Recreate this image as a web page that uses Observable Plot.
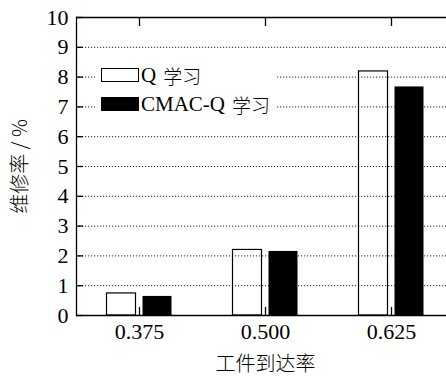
<!DOCTYPE html>
<html>
<head>
<meta charset="utf-8">
<script src="https://cdn.jsdelivr.net/npm/d3@7"></script>
<script src="https://cdn.jsdelivr.net/npm/@observablehq/plot@0.6"></script>
<style>
html, body { margin: 0; padding: 0; background: #fff; overflow: hidden; }
#wrap { position: relative; width: 446px; height: 376px; }
#legend { position: absolute; left: 95px; top: 58px; width: 182px; height: 62px; background: #fff;
  font-family: 'Liberation Serif', 'Noto Sans CJK SC', serif; font-size: 21px; color: #000; }
.row { position: absolute; left: 6px; display: flex; align-items: center; height: 22px; white-space: nowrap; }
.sw { width: 38px; height: 14px; box-sizing: border-box; border: 1px solid #000; margin-right: 2px; }
.cj { font-family: 'Noto Sans CJK SC', sans-serif; font-size: 19px; font-weight: 300; margin-left: 7px; }
svg text { font-family: 'Liberation Serif', 'Times New Roman', serif; }
</style>
</head>
<body>
<div id="wrap"></div>
<script>
const rates = ["0.375", "0.500", "0.625"];
const qLearning = [0.74, 2.20, 8.19];
const cmacQ = [0.64, 2.15, 7.67];
const yTicks = [0, 1, 2, 3, 4, 5, 6, 7, 8, 9, 10];
const gridValues = [1, 2, 3, 4, 5, 6, 7, 8, 9];
const seriesLatin = ["Q", "CMAC-Q"];
const seriesCJK = "学习";
const xLabel = "工件到达率";
const yLabel = "维修率 / %";

const qData = rates.map((r, i) => ({rate: r, value: qLearning[i]}));
const cData = rates.map((r, i) => ({rate: r, value: cmacQ[i]}));

const serif = "'Liberation Serif', 'Times New Roman', serif";
const cjk = "'Noto Sans CJK SC', sans-serif";

const chart = Plot.plot({
  width: 446,
  height: 376,
  marginLeft: 76,
  marginRight: 0,
  marginTop: 17,
  marginBottom: 61,
  style: {fontFamily: serif, fontSize: "22px", background: "white", color: "black"},
  x: {type: "band", domain: rates, range: [76, 454], padding: 0},
  y: {domain: [0, 10]},
  marks: [
    Plot.ruleY(gridValues, {stroke: "#222", strokeDasharray: "1.2,1.8", strokeWidth: 1}),
    Plot.barY(qData, {x: "rate", y: "value", fill: "none", stroke: "black", strokeWidth: 1.2, insetLeft: 30.5, insetRight: 66.5}),
    Plot.barY(cData, {x: "rate", y: "value", fill: "black", insetLeft: 66.5, insetRight: 30.5}),
    Plot.ruleY([0, 10], {stroke: "black", strokeWidth: 1.3}),
    Plot.frame({anchor: "left", stroke: "black", strokeWidth: 1.3}),
    Plot.axisY({ticks: yTicks, tickSize: -7, tickFormat: () => "", label: null, strokeWidth: 1.3}),
    Plot.axisY({ticks: yTicks, tickSize: 0, tickPadding: 8, label: null, fontSize: 22, fill: "black"}),
    Plot.axisX({anchor: "bottom", tickSize: -8, tickFormat: () => "", label: null, strokeWidth: 1.3}),
    Plot.axisX({anchor: "bottom", tickSize: 0, tickPadding: 8, label: null, fontSize: 22, fill: "black"}),
    Plot.axisX({anchor: "top", tickSize: -8, tickFormat: () => "", label: null, strokeWidth: 1.3}),
    Plot.text([xLabel], {frameAnchor: "bottom", dx: 4, dy: 49.5, lineAnchor: "middle", fontFamily: cjk, fontSize: 20, fontWeight: 300, fill: "black"}),
    Plot.text([yLabel], {frameAnchor: "left", dx: -56, rotate: -90, textAnchor: "middle", lineAnchor: "middle", fontFamily: cjk, fontSize: 20, fontWeight: 300, fill: "black"})
  ]
});

const wrap = document.getElementById("wrap");
wrap.appendChild(chart);
chart.querySelectorAll("text").forEach(t => {
  if (/[\u4e00-\u9fff]/.test(t.textContent)) t.style.fontFamily = cjk;
});

const legend = document.createElement("div");
legend.id = "legend";
const fills = ["#fff", "#000"];
const tops = [6, 35];
seriesLatin.forEach((name, i) => {
  const row = document.createElement("div");
  row.className = "row";
  row.style.top = tops[i] + "px";
  const sw = document.createElement("div");
  sw.className = "sw";
  sw.style.background = fills[i];
  const t = document.createElement("span");
  t.textContent = name;
  const c = document.createElement("span");
  c.className = "cj";
  c.textContent = seriesCJK;
  row.appendChild(sw);
  row.appendChild(t);
  row.appendChild(c);
  legend.appendChild(row);
});
wrap.appendChild(legend);
</script>
</body>
</html>
